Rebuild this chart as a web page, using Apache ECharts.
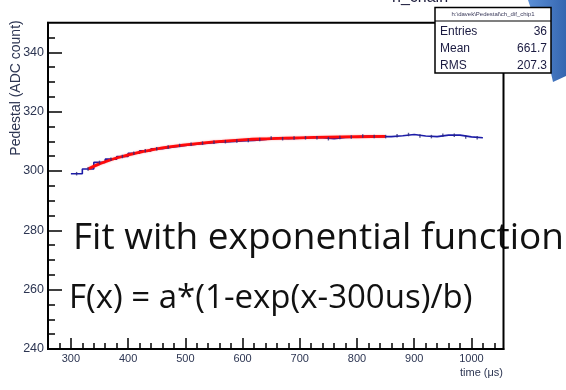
<!DOCTYPE html>
<html>
<head>
<meta charset="utf-8">
<script src="https://cdn.jsdelivr.net/npm/echarts@6/dist/echarts.min.js"></script>
<style>
  html, body { margin: 0; padding: 0; background: #fff; }
  #chart { width: 566px; height: 390px; }
</style>
</head>
<body>
<div id="chart"></div>
<script>
// Pedestal per 20 µs time bin (bin centres in µs)
const binWidth = 20;
const binCenters = [310, 330, 350, 370, 390, 410, 430, 450, 470, 490, 510, 530,
  550, 570, 590, 610, 630, 650, 670, 690, 710, 730, 750, 770,
  790, 810, 830, 850, 870, 890, 910, 930, 950, 970, 990, 1010];
const pedestal = [299.1, 300.7, 302.9, 304.0, 304.9, 306.0, 306.8, 307.5, 308.1, 308.6, 309.0, 309.4,
  309.7, 309.9, 310.1, 310.3, 310.6, 311.1, 310.9, 311.1, 311.2, 311.2, 310.9, 311.3,
  311.5, 311.8, 311.6, 311.6, 311.9, 312.3, 311.8, 311.6, 312.1, 312.1, 311.5, 311.2];

// Exponential fit curve sampled over the fit range
const fitTime = [330, 350, 370, 390, 410, 430, 460, 500, 550, 600, 650, 700, 750, 800, 850];
const fitPedestal = [300.7, 302.4, 303.8, 304.9, 305.9, 306.7, 307.8, 308.8, 309.8, 310.5, 310.9, 311.2, 311.4, 311.55, 311.65];

// Axis ranges and tick labels
const xRange = [260, 1056];
const yRange = [240, 350];
const xMajorTicks = [300, 400, 500, 600, 700, 800, 900, 1000];
const xMinorTicks = [280, 320, 340, 360, 380, 420, 440, 460, 480, 520, 540, 560, 580,
  620, 640, 660, 680, 720, 740, 760, 780, 820, 840, 860, 880, 920, 940, 960, 980, 1020, 1040];
const yMajorTicks = [240, 260, 280, 300, 320, 340];
const yMinorTicks = [245, 250, 255, 265, 270, 275, 285, 290, 295, 305, 310, 315,
  325, 330, 335, 345];

// Stats box content
const statsName = 'h:\\davek\\Pedestal\\ch_dif_chip1';
const statsLabels = ['Entries', 'Mean', 'RMS'];
const statsValues = ['36', '661.7', '207.3'];

const histTitle = 'h_chain';
const xTitle = 'time (\u03bcs)';
const yTitle = 'Pedestal (ADC count)';
const noteLine1 = 'Fit with exponential function';
const noteLine2 = 'F(x) = a*(1-exp(x-300us)/b)';

// Histogram outline: left edge of every bin, closed by the last right edge
const histPoints = binCenters.map((c, i) => [c - binWidth / 2, pedestal[i]]);
histPoints.push([binCenters[binCenters.length - 1] + binWidth / 2, pedestal[pedestal.length - 1]]);
const binMarks = binCenters.map((c, i) => [c, pedestal[i]]);
const fitPoints = fitTime.map((t, i) => [t, fitPedestal[i]]);

const labelColor = '#2c3552';
const axisFont = 'Liberation Sans, Arial, sans-serif';
const noteFont = '"Open Sans", sans-serif';

function xAxisDef(ticks, len, withLabels, withLine) {
  return {
    type: 'value', position: 'bottom', min: xRange[0], max: xRange[1],
    splitLine: { show: false },
    axisLine: { show: withLine, onZero: false, lineStyle: { color: '#000', width: 2 } },
    axisTick: { show: true, inside: true, length: len, customValues: ticks, lineStyle: { color: '#000', width: 1.5 } },
    axisLabel: withLabels ? {
      show: true, customValues: ticks, margin: 4, color: labelColor,
      fontSize: 11, fontFamily: axisFont, formatter: v => String(v)
    } : { show: false }
  };
}
function yAxisDef(ticks, len, withLabels, withLine) {
  return {
    type: 'value', position: 'left', min: yRange[0], max: yRange[1],
    splitLine: { show: false },
    axisLine: { show: withLine, onZero: false, lineStyle: { color: '#000', width: 2 } },
    axisTick: { show: true, inside: true, length: len, customValues: ticks, lineStyle: { color: '#000', width: 1.5 } },
    axisLabel: withLabels ? {
      show: true, customValues: ticks, margin: 4, color: labelColor,
      fontSize: 12.5, fontFamily: axisFont, formatter: v => String(v)
    } : { show: false }
  };
}

const chart = echarts.init(document.getElementById('chart'), null, { renderer: 'canvas' });

chart.setOption({
  backgroundColor: '#ffffff',
  animation: false,
  grid: {
    left: 48, right: 62.5, top: 22.7, bottom: 41,
    show: true, borderColor: '#000', borderWidth: 2, backgroundColor: 'transparent'
  },
  xAxis: [
    xAxisDef(xMajorTicks, 11, true, true),
    xAxisDef(xMinorTicks, 6, false, false)
  ],
  yAxis: [
    yAxisDef(yMajorTicks, 14, true, true),
    yAxisDef(yMinorTicks, 7, false, false)
  ],
  series: [
    {
      type: 'line', step: 'end', data: histPoints, showSymbol: false,
      lineStyle: { color: '#1c1ca8', width: 1.6 }, z: 2
    },
    {
      type: 'line', data: fitPoints, smooth: true, showSymbol: false,
      lineStyle: { color: '#ff0a0a', width: 2.8, shadowBlur: 2, shadowColor: 'rgba(255,0,0,0.35)' }, z: 3
    },
    {
      type: 'scatter', data: binMarks, symbol: 'rect', symbolSize: [1.4, 3.5],
      itemStyle: { color: '#2a2a80' }, z: 4, silent: true
    }
  ],
  graphic: [
    // annotation text, sitting underneath the frame lines
    {
      type: 'text', z: -10, x: 73, y: 220,
      style: { text: noteLine1, font: '37px ' + noteFont, fill: '#111', textVerticalAlign: 'top' }
    },
    {
      type: 'text', z: -10, x: 69, y: 282,
      style: { text: noteLine2, font: '33px ' + noteFont, fill: '#111', textVerticalAlign: 'top' }
    },
    // axis titles
    {
      type: 'text', x: 16, y: 88, rotation: Math.PI / 2,
      style: { text: yTitle, font: '14px ' + axisFont, fill: labelColor, textAlign: 'center', textVerticalAlign: 'middle' }
    },
    {
      type: 'text', x: 503, y: 373,
      style: { text: xTitle, font: '11px ' + axisFont, fill: labelColor, textAlign: 'right', textVerticalAlign: 'middle' }
    },
    // histogram title, running off the top edge
    {
      type: 'text', x: 392, y: 6,
      style: { text: histTitle, font: '16px ' + axisFont, fill: '#1a1a3a', textAlign: 'left', textVerticalAlign: 'bottom' }
    },
    // blue slide shape in the corner
    {
      type: 'polygon', z: 20,
      shape: { points: [[528, 0], [566, 0], [566, 76], [553, 82], [548, 60]] },
      style: {
        fill: new echarts.graphic.LinearGradient(0, 0, 1, 0, [
          { offset: 0, color: '#5b8fd6' }, { offset: 1, color: '#3566b0' }
        ])
      }
    },
    // statistics box
    {
      type: 'rect', z: 30,
      shape: { x: 435, y: 7.5, width: 116, height: 65.5 },
      style: { fill: '#fff', stroke: '#000', lineWidth: 1.5 }
    },
    {
      type: 'line', z: 31,
      shape: { x1: 435, y1: 21, x2: 551, y2: 21 },
      style: { stroke: '#000', lineWidth: 1.2 }
    },
    {
      type: 'text', z: 31, x: 493, y: 14.5,
      style: { text: statsName, font: '6px ' + axisFont, fill: '#3a3a5a', textAlign: 'center', textVerticalAlign: 'middle' }
    },
    ...statsLabels.map((lab, i) => ({
      type: 'text', z: 31, x: 440, y: 32 + i * 17,
      style: { text: lab, font: '12px ' + axisFont, fill: '#1a1a40', textAlign: 'left', textVerticalAlign: 'middle' }
    })),
    ...statsValues.map((val, i) => ({
      type: 'text', z: 31, x: 547, y: 32 + i * 17,
      style: { text: val, font: '12px ' + axisFont, fill: '#1a1a40', textAlign: 'right', textVerticalAlign: 'middle' }
    }))
  ]
});
</script>
</body>
</html>
